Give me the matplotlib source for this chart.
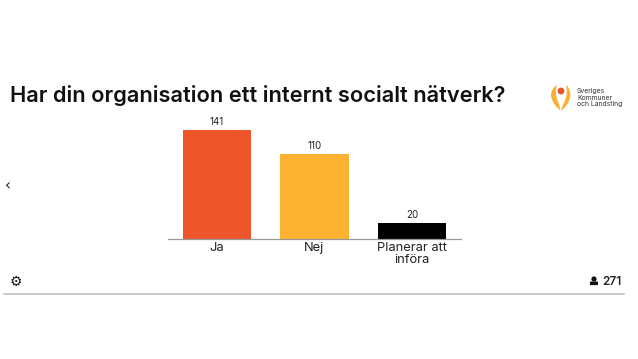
import matplotlib
matplotlib.use("Agg")
import matplotlib.pyplot as plt
from matplotlib.patches import Circle, PathPatch, FancyBboxPatch, Wedge
from matplotlib.path import Path

categories = ["Ja", "Nej", "Planerar att\ninföra"]
values = [141, 110, 20]
colors = ["#EE552B", "#FDB231", "#000000"]
title = "Har din organisation ett internt socialt nätverk?"
total = "271"
logo_text = "Sveriges\nKommuner\noch Landsting"

W, H = 638, 359
plt.rcParams["font.family"] = ["Inter", "DejaVu Sans"]
fig = plt.figure(figsize=(W / 100, H / 100), dpi=100, facecolor="white")

# overlay in pixel coordinates (y down) for the page furniture
bg = fig.add_axes([0, 0, 1, 1])
bg.set_xlim(0, W)
bg.set_ylim(H, 0)
bg.axis("off")

ax = fig.add_axes([168 / W, 1 - 238.5 / H, 293 / W, 108.5 / H])
ax.bar(range(3), values, width=0.7, color=colors)
ax.set_xlim(-0.5, 2.5)
ax.set_ylim(0, 141)
for s in ["top", "left", "right"]:
    ax.spines[s].set_visible(False)
ax.spines["bottom"].set_color("#999999")
ax.spines["bottom"].set_linewidth(0.9)
ax.set_yticks([])
ax.set_xticks(range(3))
ax.set_xticklabels(categories, fontsize=9.3, color="#222222", linespacing=1.0)
ax.tick_params(axis="x", length=0, pad=2.5)
for i, v in enumerate(values):
    ax.annotate(str(v), (i, v), xytext=(0, 2), textcoords="offset points",
                ha="center", va="bottom", fontsize=7, color="#222222")

bg.text(9.5, 95, title, fontsize=15.7, fontweight="semibold", color="#111111",
        ha="left", va="center")
bg.text(5, 186, "‹", fontsize=11, color="#222222", ha="left", va="center",
        family="DejaVu Sans")

# footer
bg.plot([4, 624], [293.5, 293.5], color="#BBBBBB", lw=1.1)
bg.text(16, 281.5, "⚙", fontsize=10, color="#111111", ha="center", va="center",
        family="DejaVu Sans")
bg.add_patch(Circle((594, 279), 2.6, color="#111111", lw=0))
bg.add_patch(FancyBboxPatch((590.5, 282), 7, 2.6, boxstyle="round,pad=0.5",
                            color="#111111", lw=0))
bg.text(602, 282, total, fontsize=8.5, fontweight="semibold", color="#222222",
        ha="left", va="center")

# logo
def flame(pts, col):
    codes = [Path.MOVETO] + [Path.CURVE4] * (len(pts) - 1)
    bg.add_patch(PathPatch(Path(pts, codes), fc=col, lw=0))

flame([(557, 85), (546, 92), (552, 104), (560, 110),
       (561, 104), (553, 98), (557, 85)], "#F8B133")
flame([(566, 85), (574, 92), (570, 104), (561, 111),
       (562, 104), (569, 98), (566, 85)], "#F8B133")
bg.add_patch(Circle((561, 91), 3.4, color="#E8532B", lw=0))
bg.text(577, 97.5, logo_text, fontsize=4.9, color="#333333", ha="left",
        va="center", linespacing=1.05)

fig.savefig("out.png", dpi=100)
